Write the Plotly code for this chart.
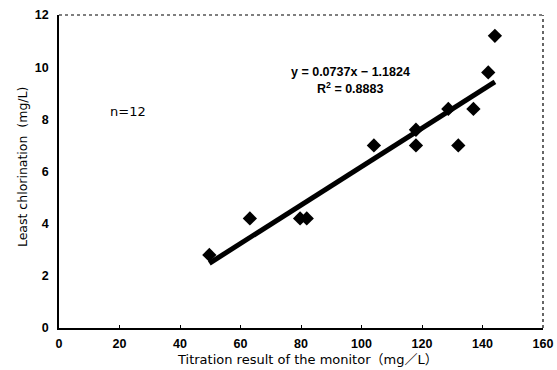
import plotly.graph_objects as go

# Data
titration_x = [49.7, 63.1, 79.7, 81.9, 104.1, 118.0, 118.0, 128.7, 132.0, 137.0, 141.9, 144.1]
chlorination_y = [2.8, 4.2, 4.2, 4.2, 7.0, 7.0, 7.6, 8.4, 7.0, 8.4, 9.8, 11.2]
slope = 0.0737
intercept = -1.1824
r_squared = 0.8883
x_ticks = [0, 20, 40, 60, 80, 100, 120, 140, 160]
y_ticks = [0, 2, 4, 6, 8, 10, 12]
x_title = "Titration result of the monitor（mg／L）"
y_title = "Least chlorination  (mg/L)"

line_x = [min(titration_x), max(titration_x)]
line_y = [slope * v + intercept for v in line_x]

fig = go.Figure()
fig.add_trace(go.Scatter(
    x=line_x, y=line_y, mode="lines",
    line=dict(color="black", width=5), hoverinfo="skip", showlegend=False))
fig.add_trace(go.Scatter(
    x=titration_x, y=chlorination_y, mode="markers",
    marker=dict(symbol="diamond", size=11, color="black"), showlegend=False))

tick_font = dict(family="Liberation Sans, Arial, sans-serif", size=12.5, color="black", weight="bold")

fig.update_layout(
    width=557, height=370,
    margin=dict(l=59, r=14, t=15, b=42),
    paper_bgcolor="white", plot_bgcolor="white",
    xaxis=dict(range=[0, 160], tickvals=x_ticks, showgrid=False, zeroline=False,
               automargin=False,
               showline=True, linecolor="black", linewidth=1.5,
               ticks="inside", ticklen=3, tickcolor="black",
               tickfont=tick_font, ticklabelstandoff=3),
    yaxis=dict(range=[0, 12], tickvals=y_ticks, showgrid=False, zeroline=False,
               automargin=False,
               showline=True, linecolor="black", linewidth=1.5,
               ticks="", ticklen=0,
               tickfont=tick_font, ticklabelstandoff=6),
)

# dotted top and right frame
fig.add_shape(type="line", xref="paper", yref="paper", x0=0, x1=1, y0=1, y1=1,
              line=dict(color="black", width=1.2, dash="dot"))
fig.add_shape(type="line", xref="paper", yref="paper", x0=1, x1=1, y0=0, y1=1,
              line=dict(color="black", width=1.2, dash="dot"))

# axis titles
fig.add_annotation(xref="paper", yref="paper", x=0.514, y=0, yshift=-31,
                   xanchor="center", yanchor="middle",
                   text=x_title, showarrow=False,
                   font=dict(family="DejaVu Sans, Noto Sans CJK JP, sans-serif", size=13, color="black"))
fig.add_annotation(xref="paper", yref="paper", x=0, y=0.514, xshift=-37, textangle=-90,
                   xanchor="center", yanchor="middle",
                   text=y_title, showarrow=False,
                   font=dict(family="DejaVu Sans, sans-serif", size=12.5, color="black"))

fig.add_annotation(x=22.8, y=8.3, text="n=12", showarrow=False,
                   font=dict(family="DejaVu Sans, sans-serif", size=13, color="black"))
eq_font = dict(family="Liberation Sans, Arial, sans-serif", size=12.5, color="black", weight="bold")
fig.add_annotation(x=96.2, y=9.8, text=f"y = {slope}x − {abs(intercept)}",
                   showarrow=False, font=eq_font)
fig.add_annotation(x=96.2, y=9.2, text=f"R<sup>2</sup> = {r_squared}",
                   showarrow=False, font=eq_font)

fig.write_html("out.html", config={"displayModeBar": False},
               post_script="document.body.style.margin='0';")
